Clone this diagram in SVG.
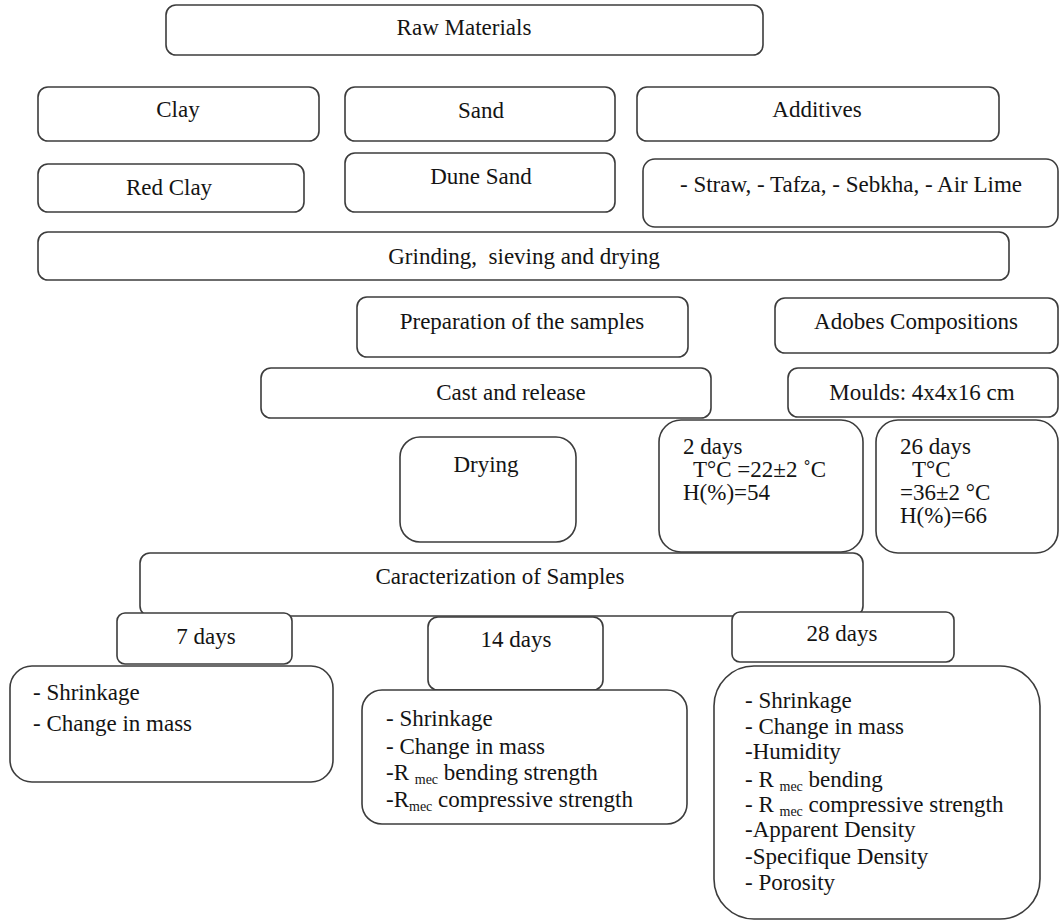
<svg xmlns="http://www.w3.org/2000/svg" width="1059" height="921" viewBox="0 0 1059 921">
<style>
.b{fill:#fff;stroke:#3c3c3c;stroke-width:1.6}
.t{font-family:"Liberation Serif","Times New Roman",serif;font-size:23px;fill:#141414}
.c{text-anchor:middle}
.s{font-size:14px}
</style>
<rect width="1059" height="921" fill="#fff"/>
<g id="raw-materials"><rect class="b" x="166" y="5" width="597" height="50" rx="10"/><text class="t c" x="464" y="35">Raw Materials</text></g>
<g id="clay"><rect class="b" x="38" y="87" width="281" height="54" rx="10"/><text class="t c" x="178" y="117">Clay</text></g>
<g id="sand"><rect class="b" x="345" y="87" width="270" height="54" rx="10"/><text class="t c" x="481" y="118">Sand</text></g>
<g id="additives"><rect class="b" x="637" y="87" width="362" height="54" rx="10"/><text class="t c" x="817" y="117">Additives</text></g>
<g id="red-clay"><rect class="b" x="38" y="164" width="266" height="48" rx="10"/><text class="t c" x="169" y="195">Red Clay</text></g>
<g id="dune-sand"><rect class="b" x="345" y="153" width="270" height="59" rx="10"/><text class="t c" x="481" y="184">Dune Sand</text></g>
<g id="additive-list"><rect class="b" x="643" y="159" width="415" height="68" rx="12"/><text class="t c" x="851" y="192">- Straw, - Tafza, - Sebkha, - Air Lime</text></g>
<g id="grinding"><rect class="b" x="38" y="232" width="971" height="48" rx="10"/><text class="t c" x="524" y="264">Grinding,&#160; sieving and drying</text></g>
<g id="preparation"><rect class="b" x="357" y="297" width="331" height="60" rx="10"/><text class="t c" x="522" y="329">Preparation of the samples</text></g>
<g id="adobes"><rect class="b" x="775" y="298" width="283" height="55" rx="10"/><text class="t c" x="916" y="329">Adobes Compositions</text></g>
<g id="cast"><rect class="b" x="261" y="368" width="450" height="50" rx="10"/><text class="t c" x="511" y="400">Cast and release</text></g>
<g id="moulds"><rect class="b" x="788" y="368" width="270" height="49" rx="10"/><text class="t c" x="922" y="400">Moulds: 4x4x16 cm</text></g>
<g id="drying"><rect class="b" x="400" y="437" width="176" height="105" rx="20"/><text class="t c" x="486" y="472">Drying</text></g>
<g id="two-days"><rect class="b" x="659" y="420" width="204" height="132" rx="22"/>
<text class="t" x="683" y="454">2 days</text><text class="t" x="693" y="477">T°C =22±2 ˚C</text><text class="t" x="683" y="500">H(%)=54</text></g>
<g id="twentysix-days"><rect class="b" x="876" y="420" width="182" height="133" rx="22"/>
<text class="t" x="900" y="454">26 days</text><text class="t" x="912" y="477">T°C</text><text class="t" x="900" y="500">=36±2 °C</text><text class="t" x="900" y="523">H(%)=66</text></g>
<g id="caracterization"><rect class="b" x="140" y="553" width="723" height="63" rx="10"/><text class="t c" x="500" y="584">Caracterization of Samples</text></g>
<g id="seven-days"><rect class="b" x="117" y="613" width="175" height="51" rx="8"/><text class="t c" x="206" y="644">7 days</text></g>
<g id="fourteen-days"><rect class="b" x="428" y="617" width="175" height="73" rx="10"/><text class="t c" x="516" y="647">14 days</text></g>
<g id="twentyeight-days"><rect class="b" x="732" y="612" width="222" height="50" rx="8"/><text class="t c" x="842" y="641">28 days</text></g>
<g id="list-7"><rect class="b" x="10" y="666" width="323" height="116" rx="22"/>
<text class="t" x="33" y="700">- Shrinkage</text><text class="t" x="33" y="731">- Change in mass</text></g>
<g id="list-14"><rect class="b" x="362" y="690" width="325" height="134" rx="20"/>
<text class="t" x="386" y="726">- Shrinkage</text><text class="t" x="386" y="754">- Change in mass</text>
<text class="t" x="386" y="780">-R <tspan class="s" dy="4">mec</tspan><tspan dy="-4"> bending strength</tspan></text>
<text class="t" x="386" y="807">-R<tspan class="s" dy="4">mec</tspan><tspan dy="-4"> compressive strength</tspan></text></g>
<g id="list-28"><rect class="b" x="714" y="666" width="326" height="253" rx="40"/>
<text class="t" x="745" y="708">- Shrinkage</text><text class="t" x="745" y="734">- Change in mass</text>
<text class="t" x="745" y="759">-Humidity</text>
<text class="t" x="745" y="787">- R <tspan class="s" dy="4">mec</tspan><tspan dy="-4"> bending</tspan></text>
<text class="t" x="745" y="812">- R <tspan class="s" dy="4">mec</tspan><tspan dy="-4"> compressive strength</tspan></text>
<text class="t" x="745" y="837">-Apparent Density</text><text class="t" x="745" y="864">-Specifique Density</text>
<text class="t" x="745" y="890">- Porosity</text></g>
<g id="connectors"></g>
</svg>
